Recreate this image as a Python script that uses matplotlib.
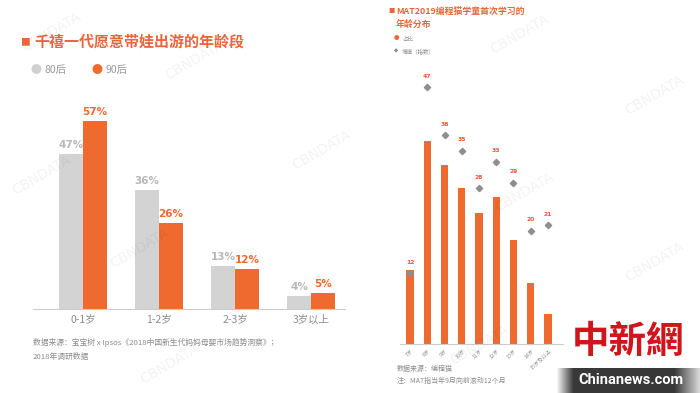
import numpy as np
import matplotlib
matplotlib.use("Agg")
import matplotlib.pyplot as plt

plt.rcParams['font.family'] = ['Noto Sans CJK SC', 'DejaVu Sans']

# left chart data
ages_left = ['0-1岁', '1-2岁', '2-3岁', '3岁以上']
share_80 = [47, 36, 13, 4]
share_90 = [57, 26, 12, 5]

# right chart data
ages_right = ['7岁', '8岁', '9岁', '10岁', '11岁', '12岁', '13岁', '14岁', '15岁及以上']
share_right = [6.8, 18.7, 16.5, 14.4, 12.1, 13.5, 9.6, 5.6, 2.8]
growth = [12, 47, 38, 35, 28, 33, 29, 20, 21]

ORANGE = '#EE6A2E'
TITLE = '#E9663C'
GREY = '#D3D3D3'
TXT = '#9A9A9A'

W, H = 700, 393
fig = plt.figure(figsize=(7, 3.93), dpi=100)


def px(x, y):
    return x / W, 1 - y / H


# faint watermarks
for (wx, wy) in [(52, 32), (195, 60), (42, 175), (140, 248), (322, 150), (520, 34),
                 (525, 192), (655, 95), (655, 262), (480, 345), (170, 364)]:
    fig.text(*px(wx, wy), 'CBNDATA', fontsize=10, color='#000000', alpha=0.05,
             rotation=30, ha='center', va='center', family='DejaVu Sans')

# ---------- left chart ----------
ax = fig.add_axes([33 / W, 1 - 309 / H, 312 / W, 198 / H])
x = np.arange(len(ages_left))
bw = 0.316
ax.bar(x - bw / 2, share_80, bw, color=GREY)
ax.bar(x + bw / 2, share_90, bw, color=ORANGE)
for i in range(len(x)):
    ax.text(x[i] - bw / 2, share_80[i] + 1.2, f'{share_80[i]}%', ha='center', va='bottom',
            fontsize=7.5, color='#B8B8B8', fontweight='bold', family='DejaVu Sans')
    ax.text(x[i] + bw / 2, share_90[i] + 1.2, f'{share_90[i]}%', ha='center', va='bottom',
            fontsize=7.5, color=ORANGE, fontweight='bold', family='DejaVu Sans')
ax.set_xlim(-0.658, 3.447)
ax.set_ylim(0, 60)
for s in ['top', 'right', 'left']:
    ax.spines[s].set_visible(False)
ax.spines['bottom'].set_color('#CCCCCC')
ax.set_yticks([])
ax.set_xticks(x)
ax.set_xticklabels(ages_left, fontsize=7.5, color='#8C8C8C')
ax.tick_params(axis='x', length=0, pad=4)
ax.patch.set_alpha(0)

fig.text(*px(20, 42), '■', fontsize=7, color=TITLE, va='center')
fig.text(*px(34, 42), '千禧一代愿意带娃出游的年龄段', fontsize=10.8, color=TITLE,
         fontweight='bold', va='center')
fig.text(*px(36, 70), '●', fontsize=8, color='#D0D0D0', va='center', ha='center')
fig.text(*px(45, 70), '80后', fontsize=7.5, color=TXT, va='center')
fig.text(*px(97, 70), '●', fontsize=8, color=ORANGE, va='center', ha='center')
fig.text(*px(105, 70), '90后', fontsize=7.5, color=TXT, va='center')
fig.text(*px(33, 342), '数据来源：宝宝树 x Ipsos《2018中国新生代妈妈母婴市场趋势洞察》；',
         fontsize=5.6, color='#8C8C8C', va='center')
fig.text(*px(33, 357), '2018年调研数据', fontsize=5.6, color='#8C8C8C', va='center')

# ---------- right chart ----------
ax2 = fig.add_axes([400 / W, 1 - 344 / H, 163 / W, 260 / H])
xr = np.arange(len(ages_right))
ax2.bar(xr, share_right, 0.42, color=ORANGE)
ax2.set_xlim(-0.58, 8.87)
ax2.set_ylim(0, 23.95)
for s in ['top', 'right', 'left']:
    ax2.spines[s].set_visible(False)
ax2.spines['bottom'].set_color('#CCCCCC')
ax2.set_yticks([])
ax2.set_xticks(xr)
ax2.set_xticklabels(ages_right, fontsize=3.8, color='#8C8C8C', rotation=45,
                    ha='right', rotation_mode='anchor')
ax2.tick_params(axis='x', length=0, pad=3)
ax2.patch.set_alpha(0)

tw = ax2.twinx()
tw.set_ylim(-1.3, 47.6)
tw.plot(xr, growth, linestyle='none', marker='D', markersize=3.2, color='#8E8E8E',
        clip_on=False)
for i, g in enumerate(growth):
    tw.text(xr[i], g + 1.6, str(g), ha='center', va='bottom', fontsize=4.3,
            color='#E4573A', fontweight='bold', family='DejaVu Sans')
tw.axis('off')

fig.text(*px(388, 11), '■', fontsize=4.5, color=TITLE, va='center')
fig.text(*px(396, 11), 'MAT2019编程猫学童首次学习的', fontsize=6.4, color=TITLE,
         fontweight='bold', va='center')
fig.text(*px(396, 24), '年龄分布', fontsize=6.4, color=TITLE, fontweight='bold', va='center')
fig.text(*px(396, 39), '●', fontsize=4, color=ORANGE, va='center', ha='center')
fig.text(*px(402, 39), '占比', fontsize=4, color='#8C8C8C', va='center')
fig.text(*px(396, 51), '◆', fontsize=4, color='#8E8E8E', va='center', ha='center',
         family='DejaVu Sans')
fig.text(*px(402, 51), '增速（指数）', fontsize=4, color='#8C8C8C', va='center')
fig.text(*px(397, 369), '数据来源：编程猫', fontsize=5, color='#8C8C8C', va='center')
fig.text(*px(397, 381), '注：MAT指当年9月向前滚动12个月', fontsize=5, color='#8C8C8C',
         va='center')

# ---------- logo ----------
fig.text(*px(628, 342), '中新網', fontsize=27, color='#D2141C', fontweight='bold',
         ha='center', va='center')
lax = fig.add_axes([556 / W, 0, 144 / W, 25 / H])
grad = np.concatenate([np.linspace(1, 0.22, 18), np.full(100, 0.22), np.linspace(0.22, 0.85, 26)])
lax.imshow(grad[np.newaxis, :], cmap='gray', vmin=0, vmax=1, aspect='auto',
           extent=[0, 1, 0, 1])
lax.axis('off')
lax.text(0.52, 0.5, 'Chinanews.com', color='white', fontsize=10.5, fontweight='bold',
         ha='center', va='center', family='Roboto', fontstretch='condensed')

fig.savefig('out.png', dpi=100)
